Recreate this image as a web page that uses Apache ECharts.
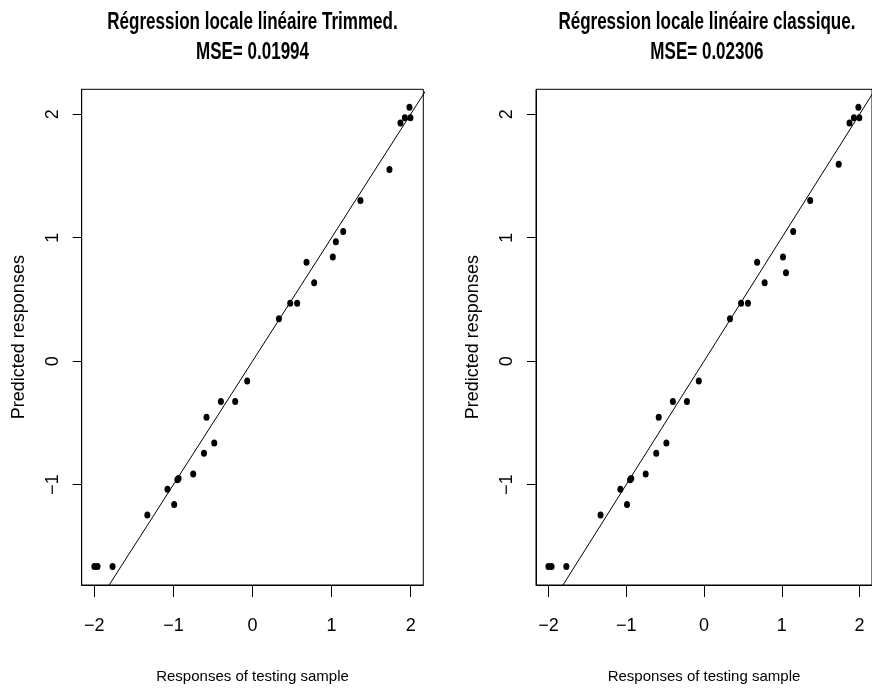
<!DOCTYPE html>
<html>
<head>
<meta charset="utf-8">
<script src="https://cdn.jsdelivr.net/npm/echarts@6/dist/echarts.min.js"></script>
<style>
  html, body { margin: 0; padding: 0; background: #fff; }
  #chart { width: 872px; height: 689px; }
</style>
</head>
<body>
<div id="chart"></div>
<script>
// responses of the testing sample (same for both panels)
var xResp = [-2.00, -1.96, -1.77, -1.33, -1.075, -0.99, -0.95, -0.935, -0.75, -0.614,
	-0.582, -0.484, -0.40, -0.219, -0.067, 0.334, 0.477, 0.565, 0.683, 0.780,
	1.016, 1.054, 1.147, 1.365, 1.732, 1.871, 1.927, 1.985, 1.997];
// predicted responses, trimmed local linear regression
var yTrimmed = [-1.664, -1.664, -1.664, -1.246, -1.037, -1.161, -0.96, -0.95, -0.913, -0.746,
	-0.454, -0.662, -0.327, -0.327, -0.160, 0.343, 0.470, 0.470, 0.802, 0.635,
	0.843, 0.967, 1.051, 1.302, 1.553, 1.929, 1.972, 2.056, 1.972];
// predicted responses, classic local linear regression
var yClassic = [-1.664, -1.664, -1.664, -1.246, -1.037, -1.161, -0.96, -0.95, -0.913, -0.746,
	-0.454, -0.662, -0.327, -0.327, -0.160, 0.343, 0.470, 0.470, 0.802, 0.635,
	0.843, 0.716, 1.051, 1.302, 1.594, 1.929, 1.972, 2.056, 1.972];
var xTicks = [-2, -1, 0, 1, 2];
var yTicks = [-1, 0, 1, 2];
var refLine = [-3, 3];   // abline(0,1)
var titles = ['Régression locale linéaire Trimmed.\nMSE= 0.01994',
	'Régression locale linéaire classique.\nMSE= 0.02306'];

var font = "'Liberation Sans', Arial, sans-serif";

function fmt(v) { return v < 0 ? '\u2212' + Math.abs(v) : String(v); }
function pairs(ys) {
	var out = [];
	for (var i = 0; i < xResp.length; i++) out.push([xResp[i], ys[i]]);
	return out;
}

var grids = [
	{ left: 81.7, top: 89.3, width: 341.6, height: 495.7 },
	{ left: 536, top: 89.3, width: 341.8, height: 495.7 }
];

var option = {
	backgroundColor: '#fff',
	animation: false,
	graphic: [],
	grid: [],
	xAxis: [],
	yAxis: [],
	series: []
};

for (var g = 0; g < 2; g++) {
	// the original titles are a narrow bold face, so squeeze them
	option.graphic.push({
		type: 'text',
		x: grids[g].left + grids[g].width / 2,
		y: 8,
		scaleX: 0.74,
		style: {
			text: titles[g], fill: '#000',
			fontFamily: font, fontWeight: 'bold', fontSize: 23, lineHeight: 30,
			align: 'center', verticalAlign: 'top'
		}
	});
	option.grid.push({
		left: grids[g].left, top: grids[g].top, width: grids[g].width, height: grids[g].height,
		show: true, borderColor: '#000', borderWidth: 1, backgroundColor: 'transparent'
	});
	option.xAxis.push({
		type: 'value', gridIndex: g, min: -2.16, max: 2.16,
		name: 'Responses of testing sample', nameLocation: 'middle', nameGap: 84,
		nameTextStyle: { fontFamily: font, fontSize: 15, color: '#000' },
		axisLine: { show: true, onZero: false, lineStyle: { color: '#000' } },
		axisTick: { show: true, length: 12, customValues: xTicks, lineStyle: { color: '#000' } },
		axisLabel: { customValues: xTicks, formatter: fmt, margin: 32,
			fontFamily: font, fontSize: 18, color: '#000' },
		splitLine: { show: false }
	});
	option.yAxis.push({
		type: 'value', gridIndex: g, min: -1.813, max: 2.202,
		name: 'Predicted responses', nameLocation: 'middle', nameGap: 54,
		nameTextStyle: { fontFamily: font, fontSize: 18, color: '#000' },
		axisLine: { show: true, onZero: false, lineStyle: { color: '#000' } },
		axisTick: { show: true, length: 9, customValues: yTicks, lineStyle: { color: '#000' } },
		axisLabel: { customValues: yTicks, formatter: fmt, rotate: 90, margin: 20,
			fontFamily: font, fontSize: 18, color: '#000' },
		splitLine: { show: false }
	});
	option.series.push({
		type: 'scatter', xAxisIndex: g, yAxisIndex: g,
		data: pairs(g === 0 ? yTrimmed : yClassic),
		symbol: 'circle', symbolSize: [6, 7],
		itemStyle: { color: '#000', opacity: 1 }
	});
	option.series.push({
		type: 'line', xAxisIndex: g, yAxisIndex: g,
		data: refLine.map(function (v) { return [v, v]; }),
		symbol: 'none', clip: true,
		lineStyle: { color: '#000', width: 1 }
	});
}

var myChart = echarts.init(document.getElementById('chart'));
myChart.setOption(option);
</script>
</body>
</html>
